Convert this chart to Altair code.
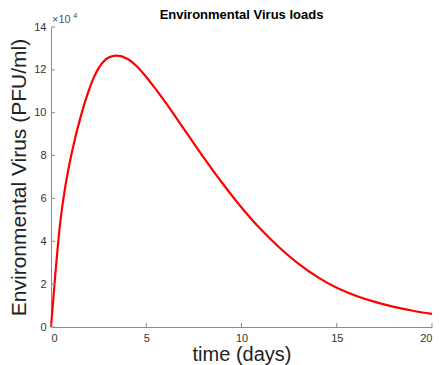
import altair as alt
import pandas as pd

# time (days)
t_days = [0, 0.25, 0.5, 0.75, 1.0, 1.25, 1.5, 1.75, 2.0, 2.25, 2.5, 2.75, 3.0, 3.45,
          4.0, 4.5, 5, 5.5, 6, 7, 8, 9, 10, 11, 12, 13, 14, 15, 16, 17, 18, 19, 20]
# environmental virus (x10^4 PFU/ml)
virus_e4 = [0, 2.7, 5.0, 6.55, 7.75, 8.75, 9.62, 10.4, 11.08, 11.65, 12.08, 12.38, 12.56, 12.66,
            12.52, 12.17, 11.67, 11.1, 10.49, 9.21, 7.93, 6.71, 5.58, 4.57, 3.70, 2.95, 2.33,
            1.83, 1.46, 1.17, 0.94, 0.76, 0.61]
y_ticks = [0, 2, 4, 6, 8, 10, 12, 14]
x_ticks = [0, 5, 10, 15, 20]

W, H = 381, 300
FONT = "Liberation Sans"

df = pd.DataFrame({"t": t_days, "v": virus_e4})
dfy = pd.DataFrame({"v": y_ticks})
dfx = pd.DataFrame({"t": x_ticks})

xs = alt.Scale(domain=[0, 20], nice=False)
ys = alt.Scale(domain=[0, 14], nice=False)

line = alt.Chart(df).mark_line(color="#ff0000", strokeWidth=2.2, interpolate="monotone").encode(
    x=alt.X("t:Q", scale=xs, axis=alt.Axis(
        values=x_ticks, title="time (days)", tickSize=0, labelPadding=5,
        titleFontSize=20, titleFontWeight="normal", titleBaseline="alphabetic",
        titleY=33, labelFontSize=11)),
    y=alt.Y("v:Q", scale=ys, axis=alt.Axis(
        values=y_ticks, title="Environmental Virus (PFU/ml)", tickSize=0, labelPadding=5,
        titleFontSize=21, titleFontWeight="normal", titleX=-26, titleY=H / 2,
        titleBaseline="alphabetic", titleAngle=-90, labelFontSize=11)),
)

yt = alt.Chart(dfy).mark_rule(color="#8a8a8a", strokeWidth=1).encode(
    y=alt.Y("v:Q", scale=ys), x=alt.value(0), x2=alt.value(4))
xt = alt.Chart(dfx).mark_rule(color="#8a8a8a", strokeWidth=1).encode(
    x=alt.X("t:Q", scale=xs), y=alt.value(H), y2=alt.value(H - 4))

exp_base = alt.Chart(pd.DataFrame({"s": ["\u00d710"]})).mark_text(
    align="left", baseline="alphabetic", fontSize=11, font=FONT, color="#555555").encode(
    text="s:N", x=alt.value(1), y=alt.value(-4))
exp_pow = alt.Chart(pd.DataFrame({"s": ["4"]})).mark_text(
    align="left", baseline="alphabetic", fontSize=8, font=FONT, color="#555555").encode(
    text="s:N", x=alt.value(22), y=alt.value(-9))

chart = alt.layer(line, yt, xt, exp_base, exp_pow).properties(
    width=W, height=H,
    title=alt.TitleParams("Environmental Virus loads", fontSize=13, fontWeight="bold",
                          font=FONT, offset=-10, anchor="middle", color="#000000"),
    autosize=alt.AutoSizeParams(type="none"),
    padding={"left": 51, "top": 27, "right": 9, "bottom": 38},
).configure_view(stroke=None).configure_axis(
    domainColor="#8a8a8a", labelColor="#333333", titleColor="#222222",
    labelFont=FONT, titleFont=FONT, grid=False, domainWidth=1,
)

chart.save("out.html", embed_options={"renderer": "svg", "actions": False})
